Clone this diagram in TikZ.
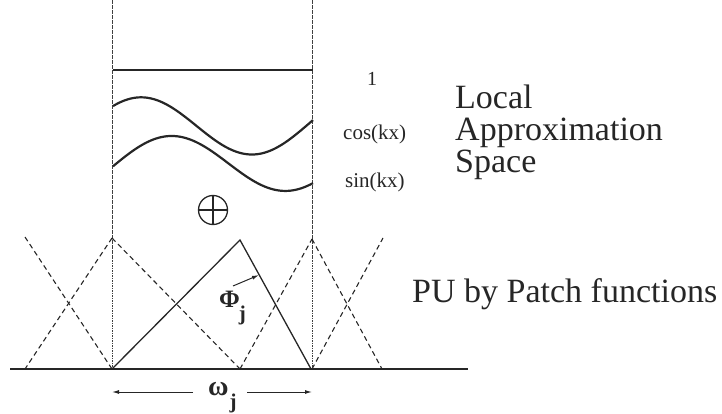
\documentclass[tikz,border=0pt]{standalone}
\usepackage{fontspec}
\setmainfont{Liberation Serif}
\usetikzlibrary{arrows.meta}
\begin{document}
\begin{tikzpicture}[x=1pt,y=-1pt,
  vline/.style={line width=0.6pt,dash pattern=on 1.6pt off 0.9pt,black!75},
  dline/.style={line width=1.1pt,dash pattern=on 5pt off 3.5pt,black!85},
  solidtri/.style={line width=1.3pt,black!85},
  curve/.style={line width=2.2pt,black!85},
  lbl/.style={inner sep=0pt,anchor=base west,text=black!85},
  arr/.style={line width=1pt,black!85,-{Latex[length=7pt,width=4pt]}}]
\useasboundingbox (0,0) rectangle (722,414);
% vertical boundaries
\coordinate (vlt) at (112,0);
\coordinate (vlb) at (112,369);
\coordinate (vrt) at (312,0);
\coordinate (vrb) at (312,369);
\draw[vline] (vlt) -- (vlb);
\draw[vline] (vrt) -- (vrb);
% baseline
\coordinate (b0) at (10,369);
\coordinate (b1) at (468,369);
\draw[line width=1.4pt,black!85] (b0) -- (b1);
% top constant line
\coordinate (c0) at (113,70);
\coordinate (c1) at (313,70);
\draw[curve] (c0) -- (c1);
% cos and sin curves
\draw[curve] plot[domain=113:313,samples=80,smooth] (\x,{123-30*cos((\x-140)/113*180)+(313-\x)/200*5});
\draw[curve] plot[domain=113:313,samples=80,smooth] (\x,{167.5-29.5*cos((\x-170)/117*180)-(\x-113)/200*7});
% labels of the local space
\node[lbl,font=\fontsize{20}{20}\selectfont] (one) at (367,86) {1};
\node[lbl,font=\fontsize{21}{21}\selectfont] (cos) at (343,140) {cos(kx)};
\node[lbl,font=\fontsize{21}{21}\selectfont] (sin) at (345,187) {sin(kx)};
\node[lbl,font=\fontsize{34}{34}\selectfont] (local) at (455,109) {Local};
\node[lbl,font=\fontsize{34}{34}\selectfont] (approx) at (455,141) {Approximation};
\node[lbl,font=\fontsize{34}{34}\selectfont] (space) at (455,173) {Space};
% oplus
\node[circle,draw=black!85,line width=1.3pt,minimum size=29pt,inner sep=0pt] (oplus) at (213,210) {};
\draw[line width=1.3pt,black!85] (oplus.north) -- (oplus.south);
\draw[line width=1.3pt,black!85] (oplus.west) -- (oplus.east);
% patch functions (dashed)
\coordinate (p0) at (25,237);
\coordinate (p1) at (112,238);
\coordinate (p2) at (312,239);
\coordinate (p3) at (383,238);
\coordinate (f0) at (25,369);
\coordinate (f1) at (112,369);
\coordinate (f2) at (240,369);
\coordinate (f3) at (312,369);
\coordinate (f4) at (382,369);
\draw[dline] (p0) -- (f1);
\draw[dline] (p1) -- (f0);
\draw[dline] (p1) -- (f2);
\draw[dline] (f2) -- (p2);
\draw[dline] (p2) -- (f4);
\draw[dline] (f3) -- (p3);
% solid patch function
\coordinate (tl) at (112,369);
\coordinate (ta) at (240,240);
\coordinate (tr) at (311,369);
\draw[solidtri] (tl) -- (ta) -- (tr);
% Phi label
\node[lbl,font=\fontsize{25}{25}\selectfont\bfseries] (phi) at (219,307) {Φ\kern-1pt\raisebox{-13pt}{\fontsize{21}{21}\selectfont j}};
\coordinate (phis) at (233,286);
\coordinate (phit) at (259,275);
\draw[arr] (phis) -- (phit);
\node[lbl,font=\fontsize{28}{28}\selectfont\bfseries] (omega) at (208,395) {ω\kern1pt\raisebox{-13pt}{\fontsize{21}{21}\selectfont j}};
\coordinate (wls) at (193,392);
\coordinate (wle) at (112,392);
\coordinate (wrs) at (247,392);
\coordinate (wre) at (312,392);
\draw[arr] (wls) -- (wle);
\draw[arr] (wrs) -- (wre);
% PU label
\node[lbl,font=\fontsize{34}{34}\selectfont] (pu) at (412,302) {PU by Patch functions};
\end{tikzpicture}
\end{document}
